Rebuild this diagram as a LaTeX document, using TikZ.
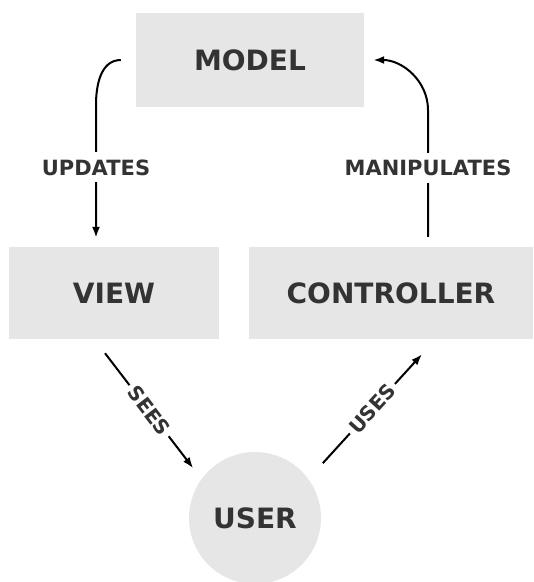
\documentclass[tikz,border=0pt]{standalone}
\usepackage{fontspec}
\setmainfont{DejaVu Sans}
\usetikzlibrary{arrows.meta}
\definecolor{boxgray}{HTML}{E6E6E6}
\definecolor{ink}{HTML}{333333}
\tikzset{
  every picture/.style={line join=round, >={Latex[length=11pt,width=8pt]}},
  part/.style={fill=boxgray, text=ink, inner sep=0pt, font=\fontsize{28}{30}\selectfont\bfseries},
  verb/.style={fill=white, text=ink, inner xsep=4pt, inner ysep=7pt, font=\fontsize{21}{23}\selectfont\bfseries},
  link/.style={->, line width=2pt},
}

\begin{document}
\begin{tikzpicture}[x=1pt,y=-1pt]
\useasboundingbox (0,0) rectangle (534,582);
\node[part, minimum width=228, minimum height=94] (model) at (250,60) {MODEL};
\node[part, minimum width=210, minimum height=92] (view) at (114,293) {VIEW};
\node[part, minimum width=284, minimum height=92] (ctrl) at (391,293) {CONTROLLER};
\node[part, circle, minimum size=132] (user) at (255,518) {USER};
% model -> view and controller -> model
\draw[link] ([xshift=-15pt]model.west) to[out=180,in=90] (96,105)
  -- node[verb, pos=0.47] {UPDATES} ([xshift=-18pt,yshift=9pt]view.north);
\draw[link] ([xshift=37pt,yshift=10pt]ctrl.north)
  -- node[verb, pos=0.54] {MANIPULATES} (428,110)
  to[out=90,in=0] ([xshift=9pt]model.east);
% the user in between
\draw[link] ([xshift=-9pt,yshift=-14pt]view.south)
  -- node[verb, sloped, inner ysep=2pt, font=\fontsize{20}{22}\selectfont\bfseries] {SEES} ([xshift=-15pt,yshift=3pt]user.135);
\draw[link] ([xshift=21pt,yshift=8pt]user.45)
  -- node[verb, sloped, inner ysep=2pt, font=\fontsize{20}{22}\selectfont\bfseries] {USES} ([xshift=31pt,yshift=-15pt]ctrl.south);
\end{tikzpicture}
\end{document}
